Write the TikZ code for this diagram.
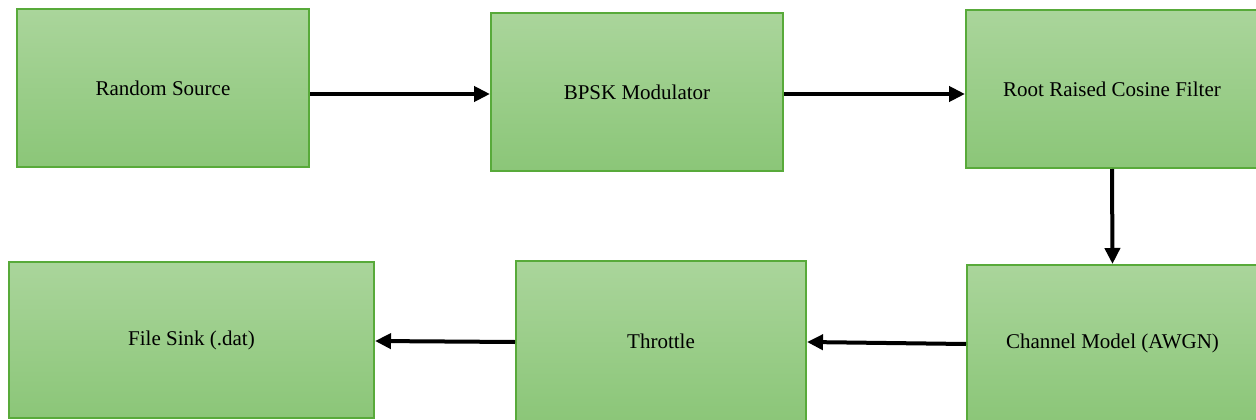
\documentclass[tikz,border=0pt]{standalone}
\usepackage{fontspec}
\setmainfont{Liberation Serif}
\newfontfamily\labelfont{Liberation Serif}
\usetikzlibrary{arrows.meta,calc}
\definecolor{boxtop}{RGB}{170,213,155}
\definecolor{boxbot}{RGB}{139,198,120}
\definecolor{boxline}{RGB}{88,170,58}
\tikzset{
  block/.style={rectangle, draw=boxline, line width=2pt, top color=boxtop, bottom color=boxbot,
    font=\labelfont\fontsize{21}{25}\selectfont, text=black, inner sep=0pt},
  flow/.style={line width=4pt, -{Triangle[length=16pt,width=15pt]}}
}
\begin{document}
\begin{tikzpicture}[x=1pt,y=-1pt]
\useasboundingbox (0,0) rectangle (1256,420);
\node[block, minimum width=292pt, minimum height=158pt] (rs) at (163,88) {Random Source};
\node[block, minimum width=292pt, minimum height=158pt] (bp) at (637,92) {BPSK Modulator};
\node[block, minimum width=292pt, minimum height=158pt] (rrc) at (1112,89) {Root Raised Cosine Filter};
\node[block, minimum width=291pt, minimum height=157pt] (ch) at (1112.5,343.5) {Channel Model (AWGN)};
\node[block, minimum width=290pt, minimum height=161pt] (th) at (661,341.5) {Throttle};
\node[block, minimum width=365pt, minimum height=156pt] (fs) at (191.5,340) {File Sink (.dat)};
\draw[flow] ($(rs.east)+(0,6)$) -- ($(bp.west)+(0,2)$);
\draw[flow] ($(bp.east)+(0,2)$) -- ($(rrc.west)+(0,5)$);
\draw[flow] (rrc.south) -- (ch.north);
\draw[flow] ($(ch.west)+(0,0.5)$) -- ($(th.east)+(0,0.5)$);
\draw[flow] ($(th.west)+(0,0.5)$) -- ($(fs.east)+(0,1)$);
\end{tikzpicture}
\end{document}
